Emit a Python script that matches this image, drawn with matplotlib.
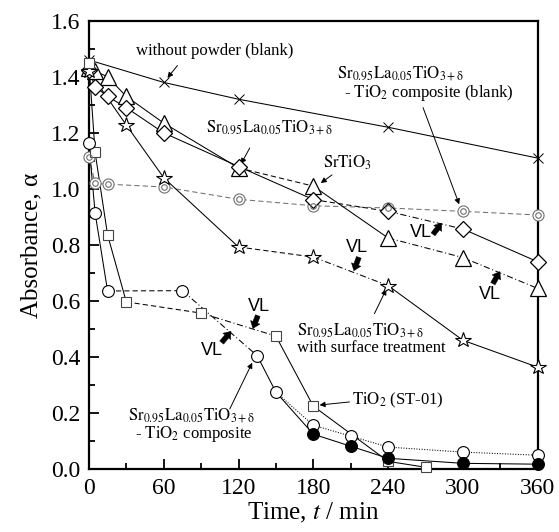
import matplotlib
matplotlib.use("Agg")
import matplotlib.pyplot as plt
from matplotlib.ticker import MultipleLocator, FormatStrFormatter

plt.rcParams['font.family'] = ['Liberation Serif', 'DejaVu Serif']
plt.rcParams['mathtext.fontset'] = 'stix'

# ---------------- data ----------------
t_blank = [0, 60, 120, 240, 360]
a_blank = [1.46, 1.38, 1.32, 1.22, 1.11]

t_srtio3 = [0, 5, 15, 30, 60, 120, 180, 240, 300, 360]
a_srtio3 = [1.43, 1.42, 1.40, 1.33, 1.235, 1.075, 1.01, 0.825, 0.755, 0.645]

t_sl = [0, 5, 15, 30, 60, 120, 180, 240, 300, 360]
a_sl = [1.425, 1.365, 1.33, 1.29, 1.20, 1.08, 0.962, 0.920, 0.857, 0.740]

t_surf = [0, 30, 60, 120, 180, 240, 300, 360]
a_surf = [1.42, 1.228, 1.04, 0.793, 0.757, 0.655, 0.46, 0.364]

t_compblank = [0, 5, 15, 60, 120, 180, 240, 300, 360]
a_compblank = [1.115, 1.02, 1.017, 1.007, 0.963, 0.940, 0.932, 0.920, 0.907]

t_comp = [0, 5, 15, 75, 135, 150, 180, 210, 240, 300, 360]
a_comp = [1.164, 0.914, 0.636, 0.637, 0.405, 0.275, 0.157, 0.118, 0.079, 0.061, 0.05]

t_comp_filled = [180, 210, 240, 300, 360]
a_comp_filled = [0.125, 0.082, 0.039, 0.021, 0.018]

t_tio2 = [0, 5, 15, 30, 90, 150, 180, 240, 270]
a_tio2 = [1.45, 1.13, 0.836, 0.597, 0.557, 0.475, 0.225, 0.028, 0.007]

x_ticks = [0, 60, 120, 180, 240, 300, 360]
y_ticks = [0.0, 0.2, 0.4, 0.6, 0.8, 1.0, 1.2, 1.4, 1.6]

# ---------------- figure ----------------
fig = plt.figure(figsize=(5.59, 5.32), dpi=100)
ax = fig.add_axes([0.159, 0.118, 0.803, 0.843])

LW = 0.75
styles = {'solid': '-', 'dash': (0, (5, 3)), 'dashdot': (0, (6, 2.5, 1, 2.5)), 'dot': (0, (1, 1.5))}


def seg_plot(t, a, segs, color='k', z=2):
    # segs: list of (start_index, end_index, style)
    for i0, i1, st in segs:
        ax.plot(t[i0:i1 + 1], a[i0:i1 + 1], color=color, lw=LW, ls=styles[st], zorder=z)


def mk(t, a, **kw):
    ax.plot(t, a, ls='none', clip_on=False, **kw)


# blank
ax.plot(t_blank, a_blank, color='k', lw=LW, zorder=2)
mk(t_blank, a_blank, marker='x', ms=6.5, mew=0.7, color='k', zorder=3)

# composite blank (gray double circles)
ax.plot(t_compblank, a_compblank, color='#707070', lw=LW, ls=styles['dash'], zorder=2)
mk(t_compblank, a_compblank, marker='o', ms=8, mfc='white', mec='#707070', mew=0.8, zorder=4)
mk(t_compblank, a_compblank, marker='o', ms=4, mfc='none', mec='#707070', mew=0.8, zorder=5)

# SrTiO3 (triangles)
seg_plot(t_srtio3, a_srtio3, [(0, 5, 'solid'), (5, 6, 'dash'), (6, 7, 'solid'), (7, 9, 'dashdot')])
mk(t_srtio3, a_srtio3, marker='^', ms=11, mfc='white', mec='k', mew=0.9, zorder=4)

# Sr0.95La0.05TiO3 (diamonds)
seg_plot(t_sl, a_sl, [(0, 6, 'solid'), (6, 7, 'dash'), (7, 8, 'dashdot'), (8, 9, 'solid')])
mk(t_sl, a_sl, marker='D', ms=8, mfc='white', mec='k', mew=0.9, zorder=4)

# surface treatment (stars)
seg_plot(t_surf, a_surf, [(0, 3, 'solid'), (3, 4, 'dash'), (4, 5, 'dashdot'), (5, 7, 'solid')])
mk(t_surf, a_surf, marker='*', ms=11.5, mfc='white', mec='k', mew=0.8, zorder=4)

# TiO2 (squares)
seg_plot(t_tio2, a_tio2, [(0, 3, 'solid'), (3, 4, 'dash'), (4, 5, 'dashdot'), (5, 8, 'solid')])
mk(t_tio2, a_tio2, marker='s', ms=7.5, mfc='white', mec='#444444', mew=0.8, zorder=4)

# composite (circles)
seg_plot(t_comp, a_comp, [(0, 2, 'solid'), (2, 3, 'dash'), (3, 4, 'dashdot'), (4, 5, 'solid'), (5, 10, 'dot')])
ax.plot([t_comp[5]] + t_comp_filled, [a_comp[5]] + a_comp_filled, color='k', lw=LW, zorder=2)
mk(t_comp, a_comp, marker='o', ms=8.5, mfc='white', mec='k', mew=0.8, zorder=4)
mk(t_comp_filled, a_comp_filled, marker='o', ms=8.5, mfc='k', mec='k', mew=0.8, zorder=4)

# ---------------- axes ----------------
ax.set_xlim(0, 360)
ax.set_ylim(0, 1.6)
ax.set_xticks(x_ticks)
ax.set_yticks(y_ticks)
ax.xaxis.set_minor_locator(MultipleLocator(30))
ax.yaxis.set_minor_locator(MultipleLocator(0.1))
ax.yaxis.set_major_formatter(FormatStrFormatter('%.1f'))
ax.tick_params(which='both', direction='in', top=False, right=False, labelsize=17, width=1.3, pad=6)
ax.tick_params(which='major', length=7)
ax.tick_params(which='minor', length=4.5)
for s in ax.spines.values():
    s.set_linewidth(1.6)
ax.set_xlabel('Time, $t$ / min', fontsize=18, labelpad=2)
ax.set_ylabel('Absorbance, α', fontsize=18, labelpad=6)

# ---------------- annotations ----------------
SL = r'$\mathrm{Sr_{0.95}La_{0.05}TiO_{3+\delta}}$'
TIO2 = r'$\mathrm{TiO_2}$'
arrow_kw = dict(arrowstyle='-|>', lw=0.7, color='k', mutation_scale=8, shrinkA=0, shrinkB=0)
fs = 12

ax.text(101, 1.492, 'without powder (blank)', fontsize=fs, ha='center', va='center')
ax.annotate('', xy=(63, 1.396), xytext=(71, 1.440), arrowprops=arrow_kw)

ax.text(199, 1.412, SL, fontsize=fs, ha='left', va='center')
ax.text(201, 1.342, ' - ' + TIO2 + ' composite (blank)', fontsize=fs, ha='left', va='center')
ax.annotate('', xy=(297, 0.945), xytext=(268, 1.29), arrowprops=arrow_kw)

ax.text(145, 1.22, SL, fontsize=fs, ha='center', va='center')
ax.annotate('', xy=(122, 1.089), xytext=(129, 1.146), arrowprops=arrow_kw)

ax.text(207, 1.093, r'$\mathrm{SrTiO_3}$', fontsize=fs, ha='center', va='center')
ax.annotate('', xy=(186, 1.021), xytext=(195, 1.050), arrowprops=arrow_kw)

ax.text(167, 0.495, SL, fontsize=fs, ha='left', va='center')
ax.text(167, 0.432, 'with surface treatment', fontsize=fs, ha='left', va='center')
ax.annotate('', xy=(238.5, 0.642), xytext=(229, 0.555), arrowprops=arrow_kw)

ax.text(211, 0.245, TIO2 + ' (ST-01)', fontsize=fs, ha='left', va='center')
ax.annotate('', xy=(185, 0.229), xytext=(209, 0.24), arrowprops=arrow_kw)

ax.text(82.5, 0.19, SL, fontsize=fs, ha='center', va='center')
ax.text(82.5, 0.125, ' - ' + TIO2 + ' composite', fontsize=fs, ha='center', va='center')
ax.annotate('', xy=(131, 0.38), xytext=(113, 0.215), arrowprops=arrow_kw)

# VL markers
vl_kw = dict(arrowstyle='simple,head_width=0.9,head_length=0.6,tail_width=0.45',
             fc='k', ec='k', lw=0.3, mutation_scale=8, shrinkA=0, shrinkB=0)
vl_font = dict(fontsize=13, family='Liberation Sans', ha='center', va='center')
vl_items = [
    ((266, 0.843), (276, 0.838), (283, 0.878)),
    ((215, 0.79), (216.5, 0.756), (212.5, 0.708)),
    ((321.5, 0.625), (324, 0.662), (329.5, 0.705)),
    ((136, 0.582), (135.5, 0.548), (131.5, 0.502)),
    ((98.6, 0.425), (106.5, 0.452), (114, 0.492)),
]
for txt_pos, tail, head in vl_items:
    ax.text(txt_pos[0], txt_pos[1], 'VL', **vl_font)
    ax.annotate('', xy=head, xytext=tail, arrowprops=vl_kw)

fig.savefig('out.png', dpi=100)
